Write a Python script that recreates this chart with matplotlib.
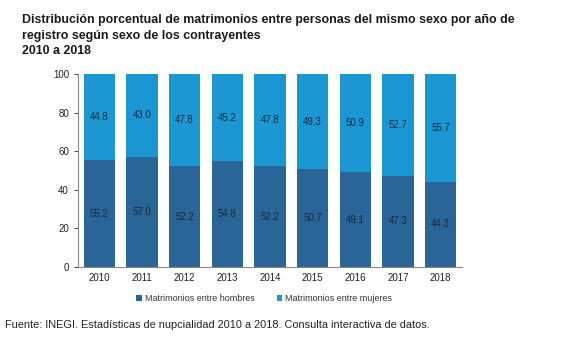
import numpy as np
import matplotlib
matplotlib.use("Agg")
import matplotlib.pyplot as plt

years = ["2010", "2011", "2012", "2013", "2014", "2015", "2016", "2017", "2018"]
hombres = [55.2, 57.0, 52.2, 54.8, 52.2, 50.7, 49.1, 47.3, 44.3]
mujeres = [44.8, 43.0, 47.8, 45.2, 47.8, 49.3, 50.9, 52.7, 55.7]

c_h = "#2a6597"
c_m = "#1b98d3"

plt.rcParams['font.family'] = ['Liberation Sans', 'DejaVu Sans']

fig = plt.figure(figsize=(5.77, 3.48), dpi=100)
ax = fig.add_axes([78 / 577, 1 - 267 / 348, 384 / 577, 193 / 348])

x = np.arange(len(years))
ax.bar(x, hombres, width=0.74, color=c_h, label="Matrimonios entre hombres")
ax.bar(x, mujeres, width=0.74, bottom=hombres, color=c_m, label="Matrimonios entre mujeres")

for i in range(len(years)):
    ax.text(x[i], hombres[i] / 2, f"{hombres[i]:.1f}", ha="center", va="center",
            fontsize=7, color="#1a2a3a")
    ax.text(x[i], hombres[i] + mujeres[i] / 2, f"{mujeres[i]:.1f}", ha="center", va="center",
            fontsize=7, color="#1a2a3a")

ax.set_xlim(-0.5, len(years) - 0.5)
ax.set_ylim(0, 100)
ax.set_yticks([0, 20, 40, 60, 80, 100])
ax.set_xticks(x)
ax.set_xticklabels(years)
ax.tick_params(axis="both", labelsize=7, colors="#222222", length=3, width=0.6)
ax.tick_params(axis="x", length=0, pad=4)
for s in ["top", "right"]:
    ax.spines[s].set_visible(False)
ax.spines["left"].set_color("#888888")
ax.spines["bottom"].set_color("#888888")

ax.legend(loc="upper center", bbox_to_anchor=(0.485, -0.1), ncol=2, frameon=False,
          fontsize=6.5, handlelength=0.6, handleheight=0.6, handletextpad=0.3,
          columnspacing=2.5, labelcolor="#333333")

title_lines = ["Distribución porcentual de matrimonios entre personas del mismo sexo por año de",
               "registro según sexo de los contrayentes",
               "2010 a 2018"]
for line, ypix in zip(title_lines, [20, 36, 51]):
    fig.text(22 / 577, 1 - ypix / 348, line, fontsize=8.9, fontweight="bold",
             va="center", color="#1a1a1a")

fig.text(5 / 577, 1 - 325 / 348,
         "Fuente: INEGI. Estadísticas de nupcialidad 2010 a 2018. Consulta interactiva de datos.",
         fontsize=7.9, va="center", color="#222222")

fig.savefig("out.png", dpi=100)
